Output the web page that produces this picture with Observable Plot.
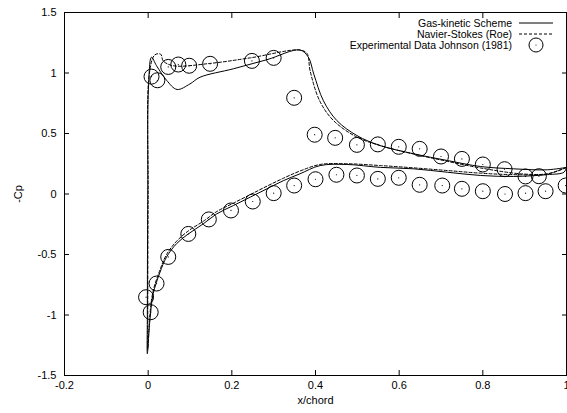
<!DOCTYPE html>
<html><head><meta charset="utf-8">
<script src="https://cdn.jsdelivr.net/npm/d3@7"></script>
<script src="https://cdn.jsdelivr.net/npm/@observablehq/plot@0.6"></script>
<style>body{margin:0;background:#fff} #chart svg{overflow:visible}</style>
</head><body><div id="chart"></div>
<script>
// Tick values
const xTicks = [-0.2, 0, 0.2, 0.4, 0.6, 0.8, 1];
const yTicks = [-1.5, -1, -0.5, 0, 0.5, 1, 1.5];

// Series names
const seriesNames = ["Gas-kinetic Scheme", "Navier-Stokes (Roe)", "Experimental Data Johnson (1981)"];

// Gas-kinetic scheme (solid): upper surface TE -> LE, then lower surface LE -> TE
const gksX = [1.0, 0.954, 0.874, 0.795, 0.715, 0.635, 0.555, 0.499, 0.451, 0.419, 0.396, 0.383, 0.363, 0.284, 0.204, 0.124, 0.1, 0.069, 0.044, 0.02, 0.008, 0.001, -0.001, -0.002,
              -0.002, 0.004, 0.012, 0.028, 0.044, 0.068, 0.096, 0.132, 0.164, 0.204, 0.244, 0.284, 0.323, 0.363, 0.411, 0.475, 0.555, 0.635, 0.715, 0.795, 0.874, 0.954, 0.994, 1.0];
const gksCp = [0.22, 0.2, 0.208, 0.227, 0.277, 0.332, 0.40, 0.483, 0.607, 0.77, 0.99, 1.13, 1.19, 1.11, 1.035, 0.965, 0.91, 0.864, 0.94, 1.06, 1.13, 0.9, 0.0, -1.0,
              -1.32, -1.05, -0.825, -0.65, -0.52, -0.41, -0.33, -0.246, -0.164, -0.095, -0.026, 0.043, 0.11, 0.167, 0.235, 0.244, 0.22, 0.208, 0.18, 0.153, 0.145, 0.16, 0.18, 0.22];

// Navier-Stokes (Roe) (dashed)
const nsX = [1.0, 0.954, 0.89, 0.795, 0.715, 0.635, 0.555, 0.499, 0.443, 0.41, 0.387, 0.38, 0.363, 0.244, 0.15, 0.06, 0.036, 0.03, 0.016, 0.003, 0.0, -0.001,
             -0.001, 0.004, 0.012, 0.028, 0.044, 0.068, 0.096, 0.132, 0.164, 0.204, 0.244, 0.284, 0.323, 0.363, 0.411, 0.475, 0.555, 0.635, 0.715, 0.795, 0.874, 0.954, 1.0];
const nsCp = [0.22, 0.167, 0.167, 0.215, 0.27, 0.33, 0.40, 0.47, 0.607, 0.77, 1.02, 1.16, 1.19, 1.125, 1.08, 1.06, 1.1, 1.155, 1.15, 1.0, 0.0, -1.0,
              -1.28, -1.0, -0.8, -0.63, -0.5, -0.39, -0.305, -0.225, -0.145, -0.075, -0.005, 0.065, 0.13, 0.19, 0.244, 0.25, 0.235, 0.216, 0.194, 0.172, 0.16, 0.165, 0.22];

// Experimental data Johnson (1981)
const expX = [0.008, 0.022, 0.048, 0.072, 0.098, 0.148, 0.248, 0.30, 0.349, 0.398, 0.447, 0.499, 0.549, 0.599, 0.649, 0.70, 0.75, 0.80, 0.852, 0.902, 0.934,
              -0.005, 0.006, 0.02, 0.048, 0.096, 0.145, 0.198, 0.25, 0.30, 0.349, 0.40, 0.45, 0.499, 0.549, 0.599, 0.649, 0.703, 0.75, 0.80, 0.853, 0.902, 0.95, 0.998];
const expCp = [0.97, 0.94, 1.05, 1.07, 1.06, 1.076, 1.10, 1.125, 0.795, 0.49, 0.464, 0.406, 0.41, 0.39, 0.373, 0.31, 0.29, 0.244, 0.205, 0.145, 0.147,
               -0.853, -0.977, -0.74, -0.52, -0.33, -0.21, -0.136, -0.062, 0.007, 0.07, 0.122, 0.159, 0.153, 0.125, 0.134, 0.076, 0.07, 0.043, 0.023, 0.0, 0.007, 0.023, 0.07];

const gks = gksX.map((x, i) => ({x, y: gksCp[i]}));
const ns = nsX.map((x, i) => ({x, y: nsCp[i]}));
const exp = expX.map((x, i) => ({x, y: expCp[i]}));

const fmt = d => String(d);
const font = "'Liberation Sans', Arial, Helvetica, sans-serif";

const chart = Plot.plot({
  width: 567, height: 413,
  marginLeft: 64, marginRight: 1, marginTop: 12, marginBottom: 38,
  style: {fontFamily: font, fontSize: "11px", color: "#000", background: "#fff", overflow: "visible"},
  x: {domain: [-0.2, 1]},
  y: {domain: [-1.5, 1.5]},
  marks: [
    Plot.line(gks, {x: "x", y: "y", stroke: "#000", strokeWidth: 1, curve: "catmull-rom"}),
    Plot.line(ns, {x: "x", y: "y", stroke: "#000", strokeWidth: 1, strokeDasharray: "3,2", curve: "catmull-rom"}),
    Plot.dot(exp, {x: "x", y: "y", r: 7.5, stroke: "#000", strokeWidth: 1, fill: "none"}),
    Plot.dot(exp, {x: "x", y: "y", r: 0.6, fill: "#000", stroke: "none"}),
    Plot.axisX({ticks: xTicks, tickSize: -5, fill: "none", label: null}),
    Plot.axisX({anchor: "top", ticks: xTicks, tickSize: -5, fill: "none", label: null}),
    Plot.axisY({ticks: yTicks, tickSize: -5, fill: "none", label: null}),
    Plot.axisY({anchor: "right", ticks: yTicks, tickSize: -5, fill: "none", label: null}),
    Plot.axisX({ticks: xTicks, tickSize: 0, tickPadding: 6, tickFormat: fmt, label: "x/chord", labelAnchor: "center", labelArrow: "none", labelOffset: 28}),
    Plot.axisY({ticks: yTicks, tickSize: 0, tickPadding: 8, tickFormat: fmt, label: "-Cp", labelAnchor: "center", labelArrow: "none", labelOffset: 50}),
    Plot.frame({stroke: "#000", strokeWidth: 1})
  ]
});
document.getElementById("chart").appendChild(chart);

// Legend (top-right, gnuplot style)
const svg = d3.select(chart.tagName.toLowerCase() === "svg" ? chart : chart.querySelector("svg"));
const lg = svg.append("g").attr("font-family", font).attr("font-size", 10.5).attr("fill", "#000");
const rowY = [23, 34, 45];
seriesNames.forEach((name, i) => {
  lg.append("text").attr("x", 512).attr("y", rowY[i]).attr("dy", "0.35em").attr("text-anchor", "end").text(name);
});
lg.append("line").attr("x1", 519).attr("x2", 553).attr("y1", rowY[0]).attr("y2", rowY[0]).attr("stroke", "#000");
lg.append("line").attr("x1", 519).attr("x2", 553).attr("y1", rowY[1]).attr("y2", rowY[1]).attr("stroke", "#000").attr("stroke-dasharray", "3,2");
lg.append("circle").attr("cx", 536).attr("cy", rowY[2]).attr("r", 7).attr("fill", "none").attr("stroke", "#000");
lg.append("circle").attr("cx", 536).attr("cy", rowY[2]).attr("r", 0.6).attr("fill", "#000");
</script>
</body></html>
